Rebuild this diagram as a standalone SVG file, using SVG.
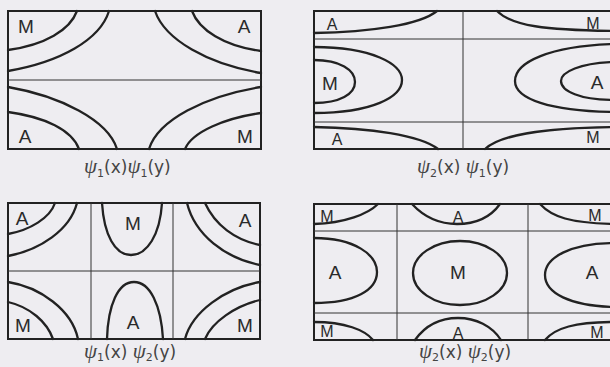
<svg xmlns="http://www.w3.org/2000/svg" width="610" height="367" viewBox="0 0 610 367">
<style>
.bg{fill:#eeedf1}
.frame{fill:none;stroke:#222;stroke-width:2}
.grid{fill:none;stroke:#333;stroke-width:1}
.c{fill:none;stroke:#222;stroke-width:2.3;stroke-linecap:round}
.lab{font-family:"Liberation Sans",Arial,sans-serif;fill:#2a2a2a;text-anchor:middle;dominant-baseline:central;font-size:19px}
.sm{font-size:16px}
.cap{font-family:"DejaVu Sans","Liberation Sans",sans-serif;fill:#444;font-size:17px}
.psi{font-style:italic;font-family:"Liberation Serif",serif;font-size:21px}
.sub{font-size:11px}
</style>
<rect class="bg" x="0" y="0" width="610" height="367"/>

<g id="panel1">
<rect class="frame" x="8" y="11" width="253" height="138"/>
<line class="grid" x1="8" y1="80" x2="261" y2="80"/>
<g id="p1-contours">
<path class="c" d="M77,11 C70,30 45,45 8,50"/>
<path class="c" d="M109,11 C100,40 60,62 8,71"/>
<path class="c" d="M192,11 C199,30 224,46 261,51"/>
<path class="c" d="M155,11 C165,40 208,64 261,73"/>
<path class="c" d="M8,112 C45,117 72,130 79,149"/>
<path class="c" d="M8,87 C60,96 108,120 117,149"/>
<path class="c" d="M261,113 C225,118 192,132 185,149"/>
<path class="c" d="M261,87 C205,96 158,120 149,149"/>
</g>
<text class="lab" x="26" y="26">M</text>
<text class="lab" x="244" y="26">A</text>
<text class="lab" x="25" y="136">A</text>
<text class="lab" x="245" y="136">M</text>
<text class="cap" x="84" y="173"><tspan class="psi">ψ</tspan><tspan class="sub" dy="4">1</tspan><tspan dy="-4">(x)</tspan><tspan class="psi">ψ</tspan><tspan class="sub" dy="4">1</tspan><tspan dy="-4">(y)</tspan></text>
</g>

<g id="panel2">
<rect class="frame" x="314" y="11" width="310" height="138"/>
<line class="grid" x1="314" y1="39" x2="612" y2="39"/>
<line class="grid" x1="314" y1="122" x2="612" y2="122"/>
<line class="grid" x1="463" y1="11" x2="463" y2="149"/>
<g id="p2-contours">
<path class="c" d="M314,33 C370,32 420,25 437,11"/>
<path class="c" d="M314,127 C370,128 420,135 438,149"/>
<path class="c" d="M314,47 C372,47 402,64 402,80 C402,97 372,113 314,113"/>
<path class="c" d="M314,60 C340,60 355,70 355,82 C355,94 340,103 314,103"/>
<path class="c" d="M497,11 C512,26 545,30 614,31"/>
<path class="c" d="M485,149 C500,135 540,128 614,127"/>
<path class="c" d="M614,44 C550,46 515,62 515,81 C515,99 550,111 614,112"/>
<path class="c" d="M614,62 C580,63 561,72 561,81 C561,91 580,100 614,100"/>
</g>
<text class="lab sm" x="332" y="24">A</text>
<text class="lab sm" x="593" y="23">M</text>
<text class="lab" x="330" y="83">M</text>
<text class="lab" x="597" y="82">A</text>
<text class="lab sm" x="337" y="139">A</text>
<text class="lab sm" x="593" y="137">M</text>
<text class="cap" x="417" y="173"><tspan class="psi">ψ</tspan><tspan class="sub" dy="4">2</tspan><tspan dy="-4">(x) </tspan><tspan class="psi">ψ</tspan><tspan class="sub" dy="4">1</tspan><tspan dy="-4">(y)</tspan></text>
</g>

<g id="panel3">
<rect class="frame" x="8" y="203" width="252" height="136"/>
<line class="grid" x1="8" y1="271" x2="260" y2="271"/>
<line class="grid" x1="91" y1="203" x2="91" y2="339"/>
<line class="grid" x1="173" y1="203" x2="173" y2="339"/>
<g id="p3-contours">
<path class="c" d="M55,203 C50,218 30,230 8,234"/>
<path class="c" d="M77,203 C70,230 40,250 8,256"/>
<path class="c" d="M102,203 C104,235 115,255 131,255 C147,255 160,235 162,203"/>
<path class="c" d="M187,203 C195,235 225,258 260,265"/>
<path class="c" d="M205,203 C215,225 235,240 260,245"/>
<path class="c" d="M8,282 C40,287 72,310 78,339"/>
<path class="c" d="M8,302 C30,307 47,322 53,339"/>
<path class="c" d="M107,339 C108,305 118,282 134,282 C150,282 161,305 163,339"/>
<path class="c" d="M260,282 C225,288 192,312 185,339"/>
<path class="c" d="M260,300 C235,306 212,322 205,339"/>
</g>
<text class="lab" x="22" y="218">A</text>
<text class="lab" x="133" y="223">M</text>
<text class="lab" x="245" y="220">A</text>
<text class="lab" x="23" y="325">M</text>
<text class="lab" x="133" y="322">A</text>
<text class="lab" x="245" y="325">M</text>
<text class="cap" x="84" y="358"><tspan class="psi">ψ</tspan><tspan class="sub" dy="3">1</tspan><tspan dy="-3">(x) </tspan><tspan class="psi">ψ</tspan><tspan class="sub" dy="3">2</tspan><tspan dy="-3">(y)</tspan></text>
</g>

<g id="panel4">
<rect class="frame" x="314" y="204" width="310" height="136"/>
<line class="grid" x1="314" y1="231" x2="612" y2="231"/>
<line class="grid" x1="314" y1="313" x2="612" y2="313"/>
<line class="grid" x1="397" y1="204" x2="397" y2="340"/>
<line class="grid" x1="528" y1="204" x2="528" y2="340"/>
<g id="p4-contours">
<path class="c" d="M314,224 C345,223 368,214 378,204"/>
<path class="c" d="M412,204 C425,218 440,224 457,224 C475,224 490,218 500,204"/>
<path class="c" d="M540,204 C552,217 570,223 614,224"/>
<path class="c" d="M314,238 C355,238 377,255 377,272 C377,290 355,303 314,303"/>
<ellipse class="c" cx="460" cy="273" rx="47" ry="32"/>
<path class="c" d="M614,243 C570,243 545,258 545,275 C545,293 570,306 614,307"/>
<path class="c" d="M314,322 C345,322 365,330 373,340"/>
<path class="c" d="M415,340 C425,326 440,318 458,318 C476,318 492,326 501,340"/>
<path class="c" d="M545,340 C555,328 575,322 614,322"/>
</g>
<text class="lab sm" x="327" y="216">M</text>
<text class="lab sm" x="458" y="217">A</text>
<text class="lab sm" x="595" y="215">M</text>
<text class="lab" x="335" y="272">A</text>
<text class="lab" x="458" y="272">M</text>
<text class="lab" x="592" y="272">A</text>
<text class="lab sm" x="327" y="331">M</text>
<text class="lab sm" x="458" y="333">A</text>
<text class="lab sm" x="597" y="332">M</text>
<text class="cap" x="419" y="358"><tspan class="psi">ψ</tspan><tspan class="sub" dy="3">2</tspan><tspan dy="-3">(x) </tspan><tspan class="psi">ψ</tspan><tspan class="sub" dy="3">2</tspan><tspan dy="-3">(y)</tspan></text>
</g>
</svg>
